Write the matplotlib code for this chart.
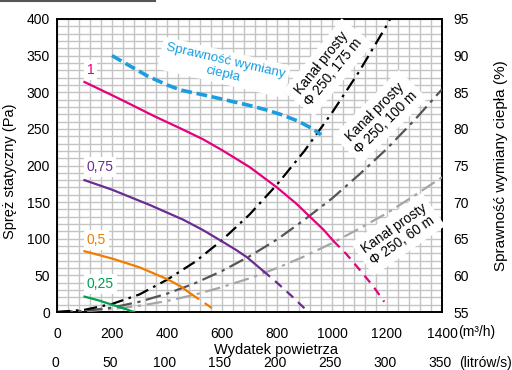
import matplotlib
matplotlib.use("Agg")
import matplotlib.pyplot as plt
import numpy as np
from matplotlib.lines import Line2D

plt.rcParams['font.family'] = ['Liberation Sans', 'DejaVu Sans']

# ---- data (air flow m3/h, pressure Pa) ----
fan1_x = [100, 200, 265, 350, 447, 530, 600, 700, 800, 870, 920, 970, 1005]
fan1_y = [314, 296, 284, 268, 251, 236, 221, 198, 170, 148, 130, 112, 97]
fan1_dx = [1005, 1050, 1100, 1150, 1190]
fan1_dy = [97, 80, 58, 35, 14]

fan075_x = [100, 200, 338, 459, 530, 593, 650, 690, 750]
fan075_y = [180, 167, 146, 126, 112, 98, 85, 75, 56]
fan075_dx = [750, 800, 850, 900]
fan075_dy = [56, 40, 23, 5]

fan05_x = [100, 200, 300, 400, 450, 490]
fan05_y = [83, 73, 61, 45, 35, 24]
fan05_dx = [490, 530, 580]
fan05_dy = [24, 14, 1]

fan025_x = [100, 150, 200, 250, 280]
fan025_y = [21, 16, 10, 4, 0]

duct_x = [0, 100, 200, 300, 400, 500, 600, 700, 800, 900, 1000, 1100, 1200, 1300, 1400]
duct175_y = [0, 3, 11, 24, 44, 68, 98, 133, 174, 220, 272, 329, 392, 460, 533]
duct100_y = [0, 1.5, 6, 14, 25, 39, 56, 76, 99, 126, 155, 188, 223, 262, 304]
duct60_y = [0, 1, 4, 8.5, 15, 23.5, 34, 46, 60, 76, 94, 114, 135, 159, 184]

eff_x = [200, 260, 330, 400, 450, 550, 630, 700, 760, 820, 880, 930, 960]
eff_y = [90, 88.7, 87.2, 86.0, 85.3, 84.5, 83.8, 83.2, 82.6, 81.9, 81.0, 80.0, 79.2]

x_ticks = [0, 200, 400, 600, 800, 1000, 1200, 1400]
x_ticks_ls = ['0', '50', '100', '150', '200', '250', '300', '350']
y_ticks = [0, 50, 100, 150, 200, 250, 300, 350, 400]
y2_ticks = [55, 60, 65, 70, 75, 80, 85, 90, 95]

C1 = '#e5007d'
C075 = '#6b2c91'
C05 = '#f07c00'
C025 = '#00a050'
CBLUE = '#1a9ee0'

L, R, T, B = 57, 442, 19, 312
fig = plt.figure(figsize=(5.12, 3.70), dpi=100)
ax = fig.add_axes([L/512, 1-B/370, (R-L)/512, (B-T)/370])
ax.set_xlim(0, 1400)
ax.set_ylim(0, 400)

ax.set_xticks(x_ticks)
ax.set_yticks(y_ticks)
ax.set_xticks(np.arange(0, 1401, 40), minor=True)
ax.set_yticks(np.arange(0, 401, 10), minor=True)
ax.tick_params(which='both', length=0)
ax.tick_params(axis='x', pad=11, labelsize=10)
ax.tick_params(axis='y', pad=5, labelsize=10)
for lab in ax.get_xticklabels():
    lab.set_x(lab.get_position()[0])
ax.grid(which='both', color='#c4c4c4', lw=1.0, zorder=0)
ax.set_axisbelow(True)
for s in ax.spines.values():
    s.set_linewidth(1.4)
    s.set_color('black')

# duct curves
ax.plot(duct_x, duct60_y, color='#a6a6a6', lw=1.6, dashes=(7, 2.5, 1.5, 2.5), zorder=3)
ax.plot(duct_x, duct100_y, color='#555555', lw=1.6, dashes=(7, 2.5, 1.5, 2.5), zorder=3)
ax.plot(duct_x, duct175_y, color='black', lw=1.6, dashes=(6, 2.5, 1.2, 2.5), zorder=3)

# fan curves
ax.plot(fan1_x, fan1_y, color=C1, lw=1.6, zorder=4)
ax.plot(fan1_dx, fan1_dy, color=C1, lw=1.6, dashes=(4, 3), zorder=4)
ax.plot(fan075_x, fan075_y, color=C075, lw=1.6, zorder=4)
ax.plot(fan075_dx, fan075_dy, color=C075, lw=1.6, dashes=(4, 3), zorder=4)
ax.plot(fan05_x, fan05_y, color=C05, lw=1.6, zorder=4)
ax.plot(fan05_dx, fan05_dy, color=C05, lw=1.6, dashes=(4, 3), zorder=4)
ax.plot(fan025_x, fan025_y, color=C025, lw=1.6, zorder=4)

box = dict(fc='white', ec='none', pad=2)
ax.text(108, 330, '1', color=C1, fontsize=10, ha='left', va='center', bbox=box, zorder=5)
ax.text(108, 198, '0,75', color=C075, fontsize=10, ha='left', va='center', bbox=box, zorder=5)
ax.text(108, 98, '0,5', color=C05, fontsize=10, ha='left', va='center', bbox=box, zorder=5)
ax.text(108, 38, '0,25', color=C025, fontsize=10, ha='left', va='center', bbox=box, zorder=5)

ax.text(607, 334, 'Sprawność wymiany\nciepła', color=CBLUE, fontsize=9.6, ha='center',
        va='center', rotation=-13, rotation_mode='anchor', linespacing=1.1,
        bbox=dict(fc='white', ec='none', pad=3), zorder=5)
kbox = dict(fc='white', ec='none', pad=4)
ax.text(985, 334, 'Kanał prosty\nΦ 250, 175 m', fontsize=9.8, ha='center', va='center',
        rotation=51, rotation_mode='anchor', linespacing=1.1, bbox=kbox, zorder=5)
ax.text(1175, 266, 'Kanał prosty\nΦ 250, 100 m', fontsize=9.8, ha='center', va='center',
        rotation=45, rotation_mode='anchor', linespacing=1.1, bbox=kbox, zorder=5)
ax.text(1240, 106, 'Kanał prosty\nΦ 250, 60 m', fontsize=9.8, ha='center', va='center',
        rotation=35, rotation_mode='anchor', linespacing=1.1, bbox=kbox, zorder=5)

ax.set_ylabel('Spręż statyczny (Pa)', fontsize=10.5)
ax.yaxis.set_label_coords((17 - L) / (R - L), 0.48)

# secondary (right) axis: efficiency
ax2 = ax.twinx()
ax2.set_ylim(55, 95)
ax2.set_yticks(y2_ticks)
ax2.tick_params(length=0, pad=8, labelsize=10)
for s in ax2.spines.values():
    s.set_visible(False)
ax2.plot(eff_x, eff_y, color=CBLUE, lw=2.6, dashes=(3, 1.3), zorder=6)
ax2.set_ylabel('Sprawność wymiany ciepła (%)', fontsize=11)
ax2.yaxis.set_label_coords((494 - L) / (R - L), 0.5)

# bottom texts
fig.text(458/512, 1-332/370, '(m³/h)', fontsize=10, ha='left', va='center')
fig.text(276/512, 1-350/370, 'Wydatek powietrza', fontsize=10.5, ha='center', va='center')
for xt, lab in zip(x_ticks, x_ticks_ls):
    xf = (L + xt * (R - L) / 1400 - 2) / 512
    fig.text(xf, 1-363/370, lab, fontsize=10, ha='center', va='center')
fig.text(459/512, 1-363/370, '(litrów/s)', fontsize=10, ha='left', va='center')

# decorative top-left line
fig.add_artist(Line2D([0, 155/512], [1-1/370, 1-1/370], color='#555555', lw=1.5))

fig.savefig('out.png', dpi=100)
